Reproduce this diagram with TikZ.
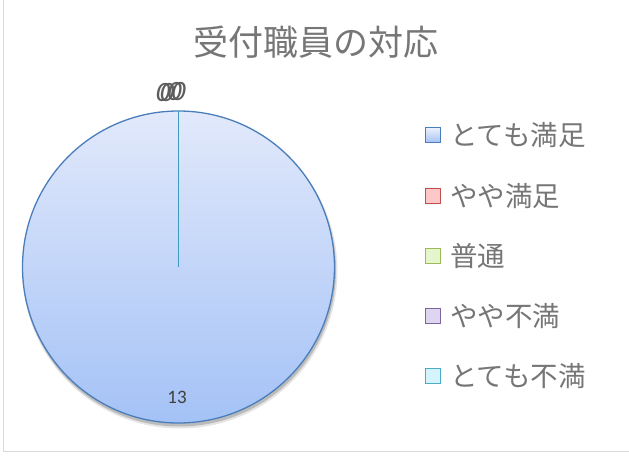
\documentclass[tikz,border=0pt]{standalone}
\usepackage{fontspec}
\newfontfamily\cjk{Noto Sans CJK JP}
\newfontfamily\numf{Carlito}
\usetikzlibrary{shadings}
\definecolor{txtgray}{RGB}{118,118,118}
\definecolor{lblgray}{RGB}{64,64,64}
\definecolor{framegray}{RGB}{217,217,217}
\definecolor{pieedge}{RGB}{74,126,187}
\definecolor{pietop}{RGB}{226,233,251}
\definecolor{piebot}{RGB}{164,194,246}
\definecolor{radline}{RGB}{62,155,190}
\tikzset{
  legbox/.style={minimum width=15bp, minimum height=15bp, inner sep=0pt, line width=1.2bp},
  legtext/.style={anchor=west, inner sep=0pt, font=\cjk\fontsize{27.5bp}{29bp}\selectfont, text=txtgray},
  datalbl/.style={inner sep=0pt, font=\numf\fontsize{19bp}{21bp}\selectfont, text=lblgray},
  zerolbl/.style={inner sep=0pt, font=\numf\fontsize{28bp}{30bp}\selectfont, text=lblgray!85!white, xslant=0.18}
}
\begin{document}
\begin{tikzpicture}[x=1bp,y=-1bp]
\useasboundingbox (0,0) rectangle (629,457);
\fill[white] (0,0) rectangle (629,457);
% frame
\draw[framegray, line width=1.5bp] (3.5,-5) -- (3.5,451.5) -- (640,451.5);
% title
\node[font=\cjk\fontsize{35bp}{38bp}\selectfont, text=txtgray] (title) at (316,42) {受付職員の対応};
% pie shadow
\fill[black, opacity=0.18] (179.5,270) circle (156.5);
\fill[black, opacity=0.10] (180,271) circle (157.5);
% pie
\shade[top color=pietop, bottom color=piebot] (178.5,267) circle (156);
\draw[pieedge, line width=1.3bp] (178.5,267) circle (156);
\coordinate (c) at (178.5,267);
\coordinate (t) at (178.5,111);
\draw[radline, line width=1.3bp] (c) -- (t);
% data labels
\node[zerolbl] (z1) at (163.5,92.5) {0};
\node[zerolbl] (z2) at (167.5,92.5) {0};
\node[zerolbl] (z3) at (175,92) {0};
\node[zerolbl] (z4) at (179,92) {0};
\node[datalbl] (v13) at (177,397) {13};
% legend
\node[legbox, draw=pieedge, top color=pietop!60!white, bottom color=piebot] (b1) at (433,135) {};
\node[legbox, draw={rgb,255:red,192;green,80;blue,77}, fill={rgb,255:red,255;green,200;blue,200}] (b2) at (433,196) {};
\node[legbox, draw={rgb,255:red,155;green,187;blue,89}, fill={rgb,255:red,230;green,246;blue,204}] (b3) at (433,256) {};
\node[legbox, draw={rgb,255:red,128;green,100;blue,162}, fill={rgb,255:red,222;green,214;blue,240}] (b4) at (433,316) {};
\node[legbox, draw={rgb,255:red,75;green,172;blue,198}, fill={rgb,255:red,212;green,243;blue,251}] (b5) at (433,376) {};
\node[legtext] (l1) at (450,135) {とても満足};
\node[legtext] (l2) at (450,196) {やや満足};
\node[legtext] (l3) at (450,256) {普通};
\node[legtext] (l4) at (450,316) {やや不満};
\node[legtext] (l5) at (450,376) {とても不満};
\end{tikzpicture}
\end{document}
